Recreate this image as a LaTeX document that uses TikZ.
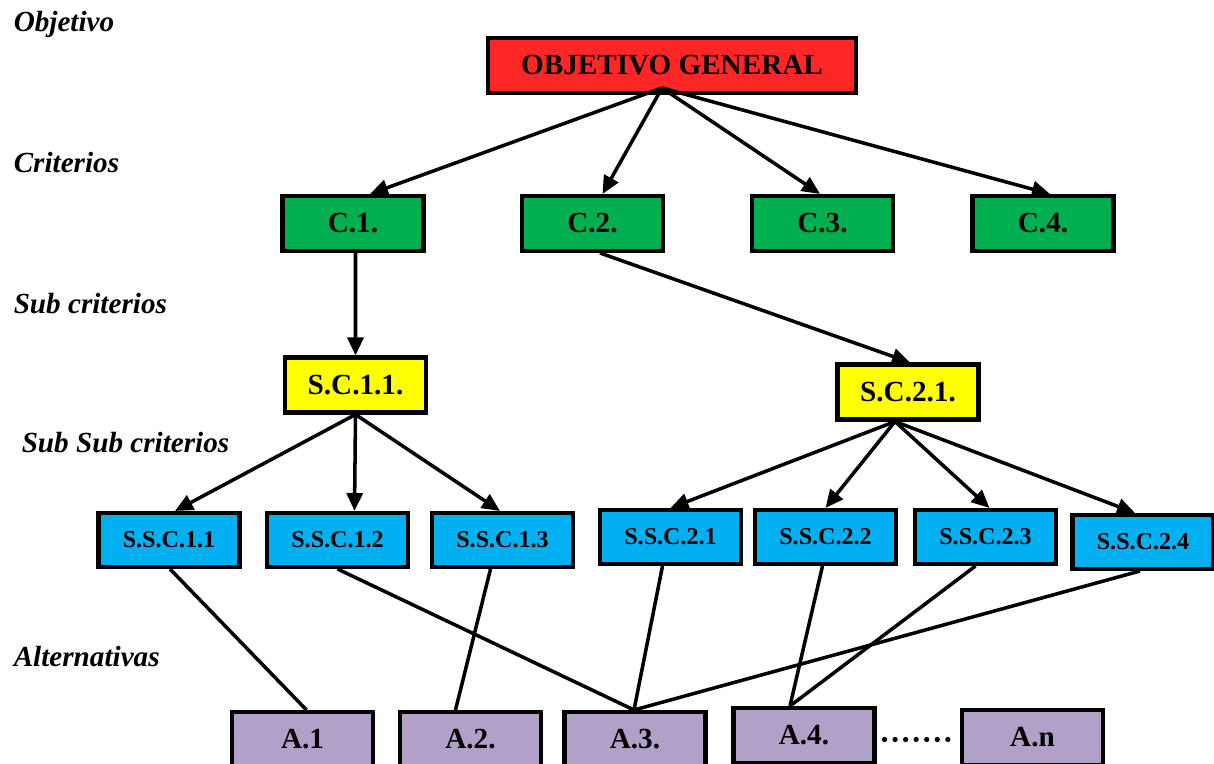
\documentclass[tikz,border=0pt]{standalone}
\usepackage{fontspec}
\setmainfont{Liberation Serif}
\usetikzlibrary{arrows.meta}
\definecolor{objred}{HTML}{FF2626}
\definecolor{crgreen}{HTML}{00B050}
\definecolor{scyellow}{HTML}{FFFF00}
\definecolor{sscblue}{HTML}{00B0F0}
\definecolor{altpurple}{HTML}{B1A0C7}
\begin{document}
\begin{tikzpicture}[>={Triangle[length=3.6mm,width=3.2mm]}, line width=2pt,
        block/.style={rectangle, draw, line width=2.3pt, minimum width=2.82cm, minimum height=1.1cm, inner sep=0pt, align=center, font=\fontsize{16.6}{18}\selectfont\bfseries},
        smallblock/.style={block, minimum height=1.08cm, font=\fontsize{13.7}{16}\selectfont\bfseries},
        level/.style={anchor=base west, inner sep=0pt, font=\fontsize{16.6}{18}\selectfont\bfseries\itshape}
    ]
    \useasboundingbox (0,0) rectangle (24.28,15.28);

    % Niveles
    \node[level] (L1) at (0.24,14.64) {Objetivo};
    \node[level] (L2) at (0.24,11.82) {Criterios};
    \node[level] (L3) at (0.24,9.0) {Sub criterios};
    \node[level] (L4) at (0.40,6.22) {Sub Sub criterios};
    \node[level] (L5) at (0.24,1.94) {Alternativas};

    % Objetivo general
    \node[block, fill=objred, minimum width=7.36cm] (OBJ) at (13.44,13.97) {OBJETIVO GENERAL};
    \coordinate (O) at (13.24,13.52);

    % Criterios
    \node[block, fill=crgreen] (C1) at (7.06,10.81) {C.1.};
    \node[block, fill=crgreen] (C2) at (11.85,10.81) {C.2.};
    \node[block, fill=crgreen] (C3) at (16.45,10.81) {C.3.};
    \node[block, fill=crgreen] (C4) at (20.86,10.81) {C.4.};
    \draw[->] (O) -- ([xshift=3.4mm]C1.north);
    \draw[->] (O) -- ([xshift=2mm]C2.north);
    \draw[->] (O) -- ([xshift=-0.5mm]C3.north);
    \draw[->] (O) -- ([xshift=1.4mm]C4.north);

    % Sub criterios
    \node[block, fill=scyellow] (SC11) at (7.11,7.58) {S.C.1.1.};
    \node[block, fill=scyellow] (SC21) at (18.16,7.44) {S.C.2.1.};
    \draw[->] ([xshift=0.5mm]C1.south) -- (SC11.north);
    \draw[->] ([xshift=1.5mm]C2.south) -- ([xshift=0.4mm]SC21.north);

    % Sub sub criterios
    \node[smallblock, fill=sscblue] (SSC11) at (3.38,4.48) {S.S.C.1.1};
    \node[smallblock, fill=sscblue] (SSC12) at (6.75,4.48) {S.S.C.1.2};
    \node[smallblock, fill=sscblue] (SSC13) at (10.05,4.48) {S.S.C.1.3};
    \node[smallblock, fill=sscblue] (SSC21) at (13.41,4.54) {S.S.C.2.1};
    \node[smallblock, fill=sscblue] (SSC22) at (16.51,4.54) {S.S.C.2.2};
    \node[smallblock, fill=sscblue] (SSC23) at (19.71,4.54) {S.S.C.2.3};
    \node[smallblock, fill=sscblue] (SSC24) at (22.86,4.44) {S.S.C.2.4};
    \draw[->] (SC11.south) -- ([xshift=1.2mm]SSC11.north);
    \draw[->] (SC11.south) -- ([xshift=3.4mm]SSC12.north);
    \draw[->] (SC11.south) -- ([xshift=-0.5mm]SSC13.north);
    \draw[->] ([xshift=-2.6mm]SC21.south) -- (SSC21.north);
    \draw[->] ([xshift=-2.6mm]SC21.south) -- (SSC22.north);
    \draw[->] ([xshift=-2.6mm]SC21.south) -- ([xshift=0.8mm]SSC23.north);
    \draw[->] ([xshift=-2.6mm]SC21.south) -- ([xshift=-1.6mm]SSC24.north);

    % Alternativas
    \node[block, fill=altpurple] (A1) at (6.05,0.49) {A.1};
    \node[block, fill=altpurple] (A2) at (9.41,0.49) {A.2.};
    \node[block, fill=altpurple] (A3) at (12.70,0.49) {A.3.};
    \node[block, fill=altpurple] (A4) at (16.08,0.57) {A.4.};
    \node[block, fill=altpurple] (An) at (20.65,0.53) {A.n};
    \coordinate (A3top) at ([xshift=-0.2mm]A3.north);
    \coordinate (A4top) at ([xshift=-2.8mm]A4.north);
    \draw ([xshift=0.2mm]SSC11.south) -- ([xshift=0.8mm]A1.north);
    \draw (SSC12.south) -- (A3top);
    \draw ([xshift=-2.4mm]SSC13.south) -- ([xshift=-3mm]A2.north);
    \draw ([xshift=-1.6mm]SSC21.south) -- (A3top);
    \draw ([xshift=-0.6mm]SSC24.south) -- (A3top);
    \draw ([xshift=-0.6mm]SSC22.south) -- (A4top);
    \draw ([xshift=-2mm]SSC23.south) -- (A4top);
    \draw[line width=3pt, line cap=round, dash pattern=on 0pt off 6pt]
        ([xshift=1.6mm,yshift=-0.8mm]A4.east) -- ([xshift=-1.6mm,yshift=-0.8mm]A4.east -| An.west);
\end{tikzpicture}
\end{document}
